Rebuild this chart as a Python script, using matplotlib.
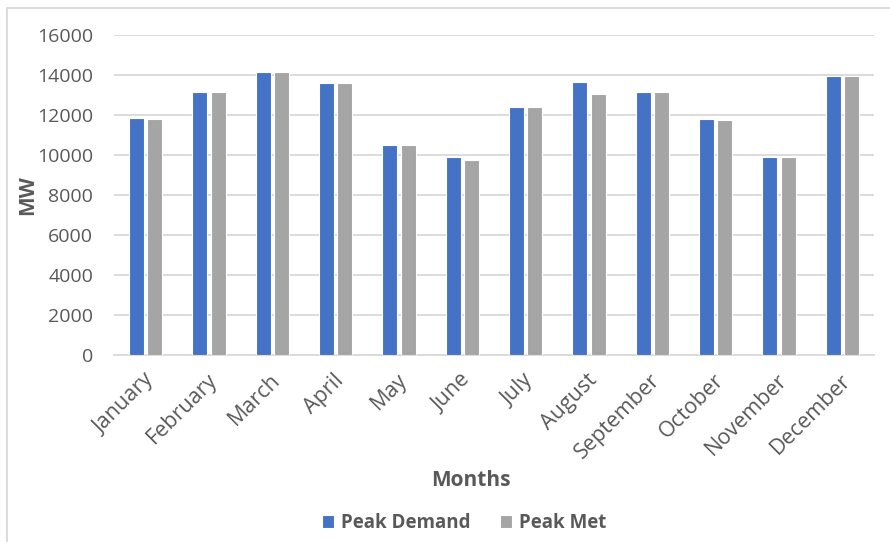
import matplotlib
matplotlib.use("Agg")
import matplotlib.pyplot as plt
import matplotlib.transforms as mtransforms
from matplotlib.lines import Line2D
import numpy as np

months = ["January", "February", "March", "April", "May", "June",
          "July", "August", "September", "October", "November", "December"]
peak_demand = [11850, 13150, 14150, 13600, 10500, 9900,
               12420, 13650, 13150, 11800, 9930, 13980]
peak_met = [11800, 13150, 14150, 13600, 10500, 9780,
            12420, 13050, 13150, 11770, 9930, 13980]
y_ticks = [0, 2000, 4000, 6000, 8000, 10000, 12000, 14000, 16000]

TEXT = "#595959"
GRID = "#d9d9d9"
BLUE = "#4472C4"
GRAY = "#A5A5A5"

plt.rcParams["font.family"] = ["Open Sans", "DejaVu Sans"]

W, H = 890, 542
fig = plt.figure(figsize=(W / 100, H / 100), dpi=100)
ax = fig.add_axes([114 / W, 1 - 355 / H, (874 - 114) / W, (355 - 35.3) / H])

x = np.arange(len(months))
off, bw = 0.145, 0.235
ax.bar(x - off, peak_demand, width=bw, color=BLUE, edgecolor="white",
       linewidth=0.8, label="Peak Demand", zorder=3)
ax.bar(x + off, peak_met, width=bw, color=GRAY, edgecolor="white",
       linewidth=0.8, label="Peak Met", zorder=3)

ax.set_xlim(-0.5, len(months) - 0.5)
ax.set_ylim(0, 16000)
ax.set_yticks(y_ticks)
ax.set_yticklabels([str(v) for v in y_ticks])
ax.yaxis.grid(True, color=GRID, linewidth=1.3, zorder=0)
ax.set_axisbelow(True)

for s in ["top", "right", "left"]:
    ax.spines[s].set_visible(False)
ax.spines["bottom"].set_color(GRID)
ax.spines["bottom"].set_linewidth(1.3)

ax.tick_params(axis="y", length=0, pad=15, labelsize=14, labelcolor=TEXT)
ax.tick_params(axis="x", length=0, pad=16, labelsize=15.5, labelcolor=TEXT)
ax.set_xticks(x)
ax.set_xticklabels(months, rotation=45, ha="right", va="center",
                   rotation_mode="anchor")
shift = mtransforms.ScaledTranslation(5 / 100, 0, fig.dpi_scale_trans)
for lbl in ax.get_xticklabels():
    lbl.set_transform(lbl.get_transform() + shift)

fig.text(28 / W, 1 - 195 / H, "MW", rotation=90, ha="center", va="center",
         fontsize=15, fontweight="bold", color=TEXT)
fig.text(471 / W, 1 - 481 / H, "Months", ha="center", va="center",
         fontsize=15, fontweight="bold", color=TEXT)

handles, labels = ax.get_legend_handles_labels()
leg = fig.legend(handles, labels, loc="center", bbox_to_anchor=(464 / W, 1 - 523 / H),
                 ncol=2, frameon=False, handlelength=0.65, handleheight=0.65,
                 handletextpad=0.35, columnspacing=1.6,
                 prop={"size": 13.5, "weight": "bold"})
for t in leg.get_texts():
    t.set_color(TEXT)

# chart frame (left and top edges)
fig.add_artist(Line2D([7 / W, 7 / W], [0, 1 - 8 / H], transform=fig.transFigure,
                      color=GRID, linewidth=1.3))
fig.add_artist(Line2D([7 / W, 1], [1 - 8 / H, 1 - 8 / H], transform=fig.transFigure,
                      color=GRID, linewidth=1.3))

fig.savefig("out.png", dpi=100, facecolor="white")
